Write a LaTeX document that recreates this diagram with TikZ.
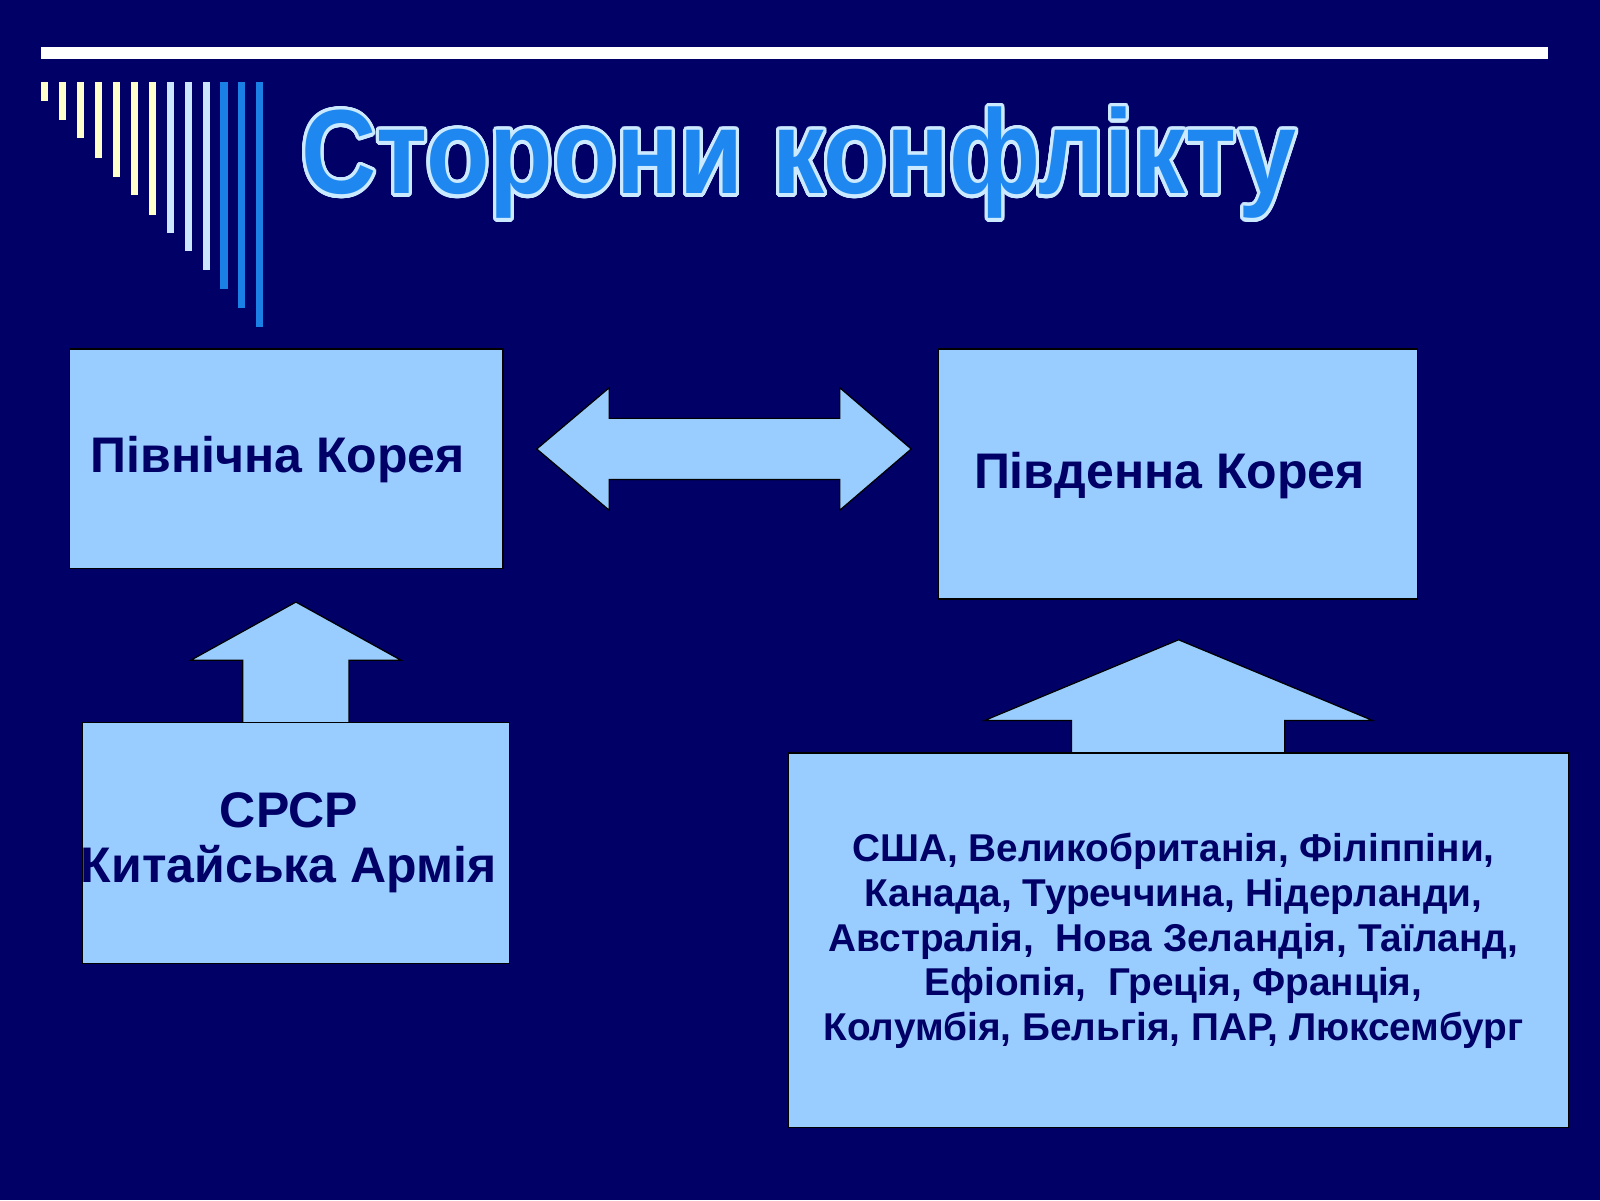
\documentclass[tikz,border=0pt]{standalone}
\usepackage{fontspec}
\setmainfont{Liberation Sans}
\usepackage{contour}
\contourlength{3pt}
\contournumber{32}
\definecolor{bg}{HTML}{000066}
\definecolor{boxc}{HTML}{99CCFF}
\definecolor{txt}{HTML}{000066}
\definecolor{ttl}{HTML}{1E88F0}
\definecolor{ttlo}{HTML}{CCEAFF}
\definecolor{sy}{HTML}{FFFFCC}
\definecolor{sl}{HTML}{CCE6FF}
\definecolor{sb}{HTML}{1A80E6}
\begin{document}
\begin{tikzpicture}[x=1pt,y=-1pt,
  boxs/.style={draw=black,line width=1.2pt,fill=boxc},
  lbl/.style={font=\bfseries\fontsize{49}{54}\selectfont,text=txt,align=center},
  small/.style={font=\bfseries\fontsize{38}{44}\selectfont,text=txt,align=center}]
\fill[bg] (0,0) rectangle (1568,1176);
\useasboundingbox (0,0) rectangle (1568,1176);
\fill[white] (40,46) rectangle (1517,58);
\foreach \x/\b/\c in {40/99/sy,57.7/118/sy,75/135/sy,93.3/155/sy,111/173/sy,128/191/sy,146/211/sy,164/228/sl,181/246/sl,199/265/sl,216/283/sb,233/302/sb,251/320/sb}
  \fill[\c] (\x,80) rectangle ++(7,\b-80);
\node[font=\bfseries\fontsize{102}{110}\selectfont,text=ttl,anchor=base,yscale=1.15] (title) at (783,190) {\contour{ttlo}{Сторони конфлікту}};
% double arrow
\draw[boxs] (526,440) -- (597,380) -- (597,410) -- (823,410) -- (823,380) -- (893,440) -- (823,500) -- (823,470) -- (597,470) -- (597,500) -- cycle;
% up arrows
\draw[boxs] (290,590) -- (393,647) -- (342,647) -- (342,709) -- (238,709) -- (238,647) -- (187,647) -- cycle;
\draw[boxs] (1155,627) -- (1345,706) -- (1259,706) -- (1259,739) -- (1050,739) -- (1050,706) -- (965,706) -- cycle;
% boxes
\draw[boxs] (68,342) rectangle (493,557);
\node[lbl] (nk) at (272,450) {Північна Корея};
\draw[boxs] (920,342) rectangle (1389,587);
\node[lbl] (sk) at (1146,466) {Південна Корея};
\draw[boxs] (81,708) rectangle (499,944);
\node[lbl] (ussr) at (283,826) {СРСР\\Китайська Армія};
\draw[boxs] (773,738) rectangle (1537,1105);
\node[small] (allies) at (1150,922) {США, Великобританія, Філіппіни,\\Канада, Туреччина, Нідерланди,\\Австралія,\ \ Нова Зеландія, Таїланд,\\Ефіопія,\ \ Греція, Франція,\\Колумбія, Бельгія, ПАР, Люксембург};
\end{tikzpicture}
\end{document}
